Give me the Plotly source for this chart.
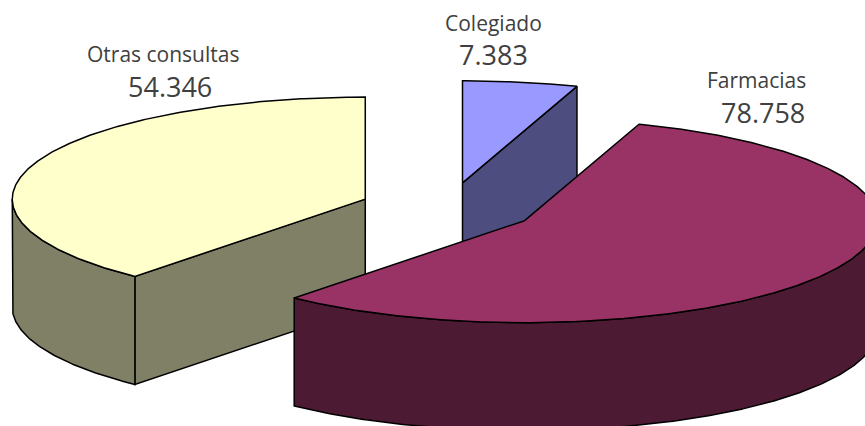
import math
import plotly.graph_objects as go

categories = ["Colegiado", "Farmacias", "Otras consultas"]
values = [7383, 78758, 54346]
value_labels = ["7.383", "78.758", "54.346"]
top_colors = ["#9999FF", "#993366", "#FFFFCC"]
side_colors = ["#4D4D80", "#4D1A33", "#808066"]
draw_order = ["Otras consultas", "Colegiado", "Farmacias"]

W, H = 865, 426
CX, CY = 448, 208
RX, RY = 353, 102
DEPTH = 108
EXPLODE = 0.25

label_pos = {"Colegiado": (493.5, 23, 493, 54),
             "Farmacias": (756, 80, 763, 112),
             "Otras consultas": (162.5, 54, 170, 86)}

fig = go.Figure()
total = sum(values)


def pt(ax, ay, deg):
    a = math.radians(deg)
    return ax + RX * math.sin(a), ay - RY * math.cos(a)


def arc(ax, ay, a0, a1, dy=0):
    n = max(2, int(abs(a1 - a0) * 2))
    res = [pt(ax, ay, a0 + (a1 - a0) * i / n) for i in range(n + 1)]
    return [(x, y + dy) for x, y in res]


def poly(points, color):
    xs = [p[0] for p in points] + [points[0][0]]
    ys = [p[1] for p in points] + [points[0][1]]
    fig.add_trace(go.Scatter(x=xs, y=ys, mode="lines", fill="toself", fillcolor=color,
                             line=dict(color="black", width=1.5), hoverinfo="skip",
                             showlegend=False))


slices = {}
start = 0.0
for name, v, top, side in zip(categories, values, top_colors, side_colors):
    sweep = 360.0 * v / total
    slices[name] = (start, start + sweep, top, side)
    start += sweep

for name in draw_order:
    start, end, top, side = slices[name]
    mid = math.radians((start + end) / 2)
    ax = CX + EXPLODE * RX * math.sin(mid)
    ay = CY - EXPLODE * RY * math.cos(mid)

    # radial cut faces turned towards the viewer
    for ang, visible in ((start, math.sin(math.radians(start)) < -1e-6),
                         (end, math.sin(math.radians(end)) > 1e-6)):
        if visible:
            e = pt(ax, ay, ang)
            poly([(ax, ay), e, (e[0], e[1] + DEPTH), (ax, ay + DEPTH)], side)

    # outer wall: front half of the rim only
    lo, hi = max(start, 90), min(end, 270)
    if hi > lo:
        poly(arc(ax, ay, lo, hi) + arc(ax, ay, hi, lo, DEPTH), side)

    # top face
    poly([(ax, ay)] + arc(ax, ay, start, end), top)

for name, val in zip(categories, value_labels):
    x1, y1, x2, y2 = label_pos[name]
    fig.add_annotation(x=x1, y=y1, text=name, showarrow=False, xanchor="center", yanchor="middle",
                       font=dict(family="Open Sans", size=21, color="#404040"))
    fig.add_annotation(x=x2, y=y2, text=val, showarrow=False, xanchor="center", yanchor="middle",
                       font=dict(family="Open Sans", size=27, color="#404040"))

fig.update_layout(width=W, height=H, margin=dict(l=0, r=0, t=0, b=0),
                  paper_bgcolor="white", plot_bgcolor="white", showlegend=False,
                  xaxis=dict(range=[0, W], visible=False, fixedrange=True),
                  yaxis=dict(range=[H, 0], visible=False, fixedrange=True))
fig.write_html("out.html", config={"displayModeBar": False},
               post_script="document.body.style.margin='0';document.body.style.overflow='hidden';")
